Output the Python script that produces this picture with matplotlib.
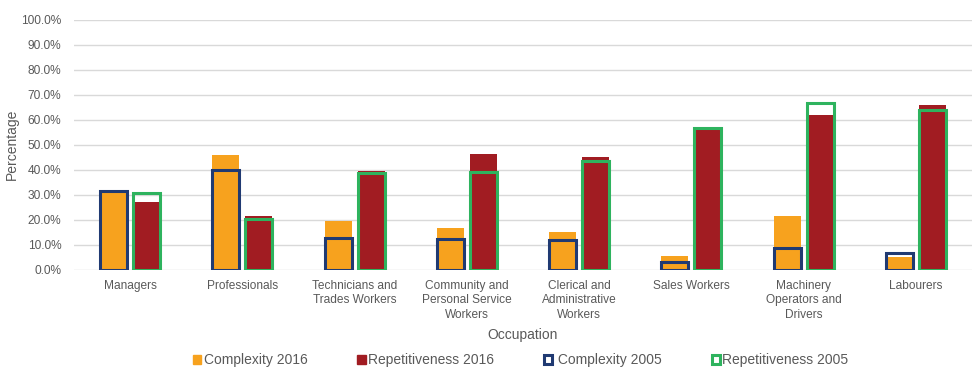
import matplotlib
matplotlib.use("Agg")
import matplotlib.pyplot as plt
import numpy as np
from matplotlib.patches import Patch

plt.rcParams['font.family'] = ['Liberation Sans', 'DejaVu Sans']

categories = [
    "Managers", "Professionals", "Technicians and\nTrades Workers",
    "Community and\nPersonal Service\nWorkers", "Clerical and\nAdministrative\nWorkers",
    "Sales Workers", "Machinery\nOperators and\nDrivers", "Labourers",
]
complexity_2016 = [31.5, 45.9, 19.6, 16.9, 15.3, 5.7, 21.7, 5.3]
repetitiveness_2016 = [27.1, 21.7, 39.7, 46.4, 45.3, 56.2, 62.0, 66.0]
complexity_2005 = [31.7, 40.0, 12.9, 12.4, 11.9, 3.3, 8.7, 6.7]
repetitiveness_2005 = [30.9, 20.4, 38.9, 39.1, 43.7, 56.7, 66.9, 64.0]
y_ticks = [0, 10, 20, 30, 40, 50, 60, 70, 80, 90, 100]

ORANGE = "#F7A21E"
RED = "#A11C22"
NAVY = "#203A72"
GREEN = "#2EB35E"
TEXT = "#595959"

fig = plt.figure(figsize=(9.77, 3.70), dpi=100)
ax = fig.add_axes([0.0757, 0.2703, 0.9193, 0.6765])

x = np.arange(len(categories))
w = 0.24
off = 0.147

ax.bar(x - off, complexity_2016, width=w, color=ORANGE, zorder=2)
ax.bar(x + off, repetitiveness_2016, width=w, color=RED, zorder=2)
ax.bar(x - off, complexity_2005, width=w, fill=False, edgecolor=NAVY, linewidth=2.2, zorder=3)
ax.bar(x + off, repetitiveness_2005, width=w, fill=False, edgecolor=GREEN, linewidth=2.2, zorder=3)

ax.set_xlim(-0.5, len(categories) - 0.5)
ax.set_ylim(0, 100)
ax.set_yticks(y_ticks)
ax.set_yticklabels([f"{v:.1f}%" for v in y_ticks], fontsize=8.6, color=TEXT)
ax.set_xticks(x)
ax.set_xticklabels(categories, fontsize=8.6, color=TEXT, linespacing=1.28)
ax.tick_params(axis='both', length=0)
ax.tick_params(axis='x', pad=7)
ax.tick_params(axis='y', pad=9)
ax.yaxis.grid(True, color="#D9D9D9", linewidth=1.0, zorder=0)
ax.set_axisbelow(True)
for s in ax.spines.values():
    s.set_visible(False)

fig.text(0.0123, 0.6087, "Percentage", rotation=90, ha="center", va="center",
         fontsize=10, color=TEXT)
fig.text(0.535, 0.095, "Occupation", ha="center", va="center", fontsize=10, color=TEXT)

handles = [
    Patch(facecolor=ORANGE, edgecolor=ORANGE, label="Complexity 2016"),
    Patch(facecolor=RED, edgecolor=RED, label="Repetitiveness 2016"),
    Patch(facecolor="white", edgecolor=NAVY, linewidth=2.2, label=" Complexity 2005"),
    Patch(facecolor="white", edgecolor=GREEN, linewidth=2.2, label="Repetitiveness 2005"),
]
leg = fig.legend(handles=handles, loc="center", bbox_to_anchor=(0.533, 0.027), ncol=4,
                 frameon=False, fontsize=10, handlelength=0.6, handleheight=0.6,
                 handletextpad=0.15, columnspacing=3.6, borderpad=0)
for t in leg.get_texts():
    t.set_color(TEXT)

fig.savefig("out.png", dpi=100)
